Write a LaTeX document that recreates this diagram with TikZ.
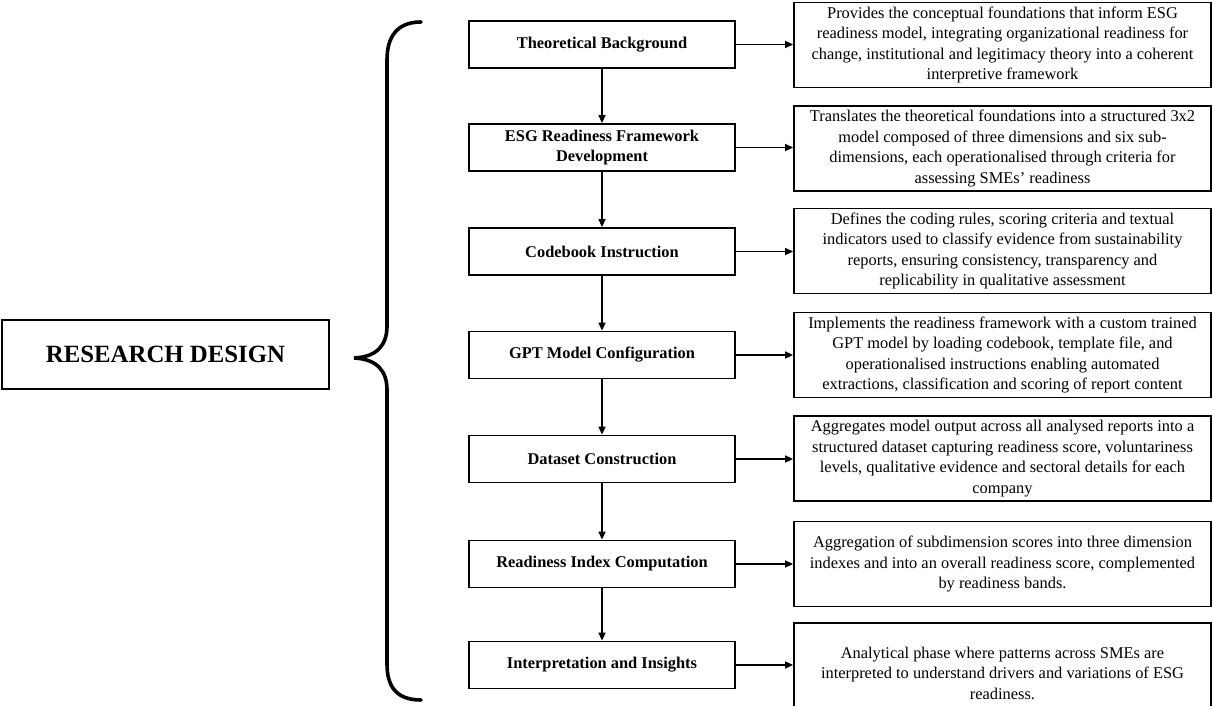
\documentclass[tikz,border=0pt]{standalone}
\usepackage{fontspec}
\setmainfont{Liberation Serif}
\usetikzlibrary{arrows.meta,positioning}
\begin{document}
\begin{tikzpicture}[x=1pt,y=-1pt,
  stepbox/.style={draw,line width=1.8pt,minimum width=266pt,minimum height=47pt,inner sep=0pt,align=center,
    font=\fontsize{16.4}{20.5}\selectfont\bfseries},
  descbox/.style={draw,line width=1.8pt,minimum width=417pt,minimum height=85pt,inner sep=0pt,align=center,
    font=\fontsize{16.4}{20.5}\selectfont},
  flow/.style={line width=1.6pt,-{Triangle[length=8pt,width=7pt]}},
  bracestyle/.style={line width=3.6pt,line cap=round}]
\useasboundingbox (0,0) rectangle (1213,706);
% left box
\node[draw,line width=1.8pt,minimum width=327pt,minimum height=69pt,inner sep=0pt,
  font=\fontsize{24.8}{28}\selectfont\bfseries] (rd) at (165.5,354.5) {RESEARCH DESIGN};
% brace
\draw[bracestyle] (421,22) .. controls (396,22) and (387,38) .. (387,60) -- (387,326)
  .. controls (387,346) and (376,357) .. (354,358)
  .. controls (376,359) and (387,370) .. (387,390) -- (387,664)
  .. controls (387,686) and (396,700) .. (421,700);
% step boxes
\node[stepbox] (m1) at (602,44.5) {Theoretical Background};
\node[stepbox] (m2) at (602,147.5) {ESG Readiness Framework\\Development};
\node[stepbox] (m3) at (602,251.5) {Codebook Instruction};
\node[stepbox] (m4) at (602,355) {GPT Model Configuration};
\node[stepbox] (m5) at (602,459) {Dataset Construction};
\node[stepbox] (m6) at (602,564) {Readiness Index Computation};
\node[stepbox] (m7) at (602,665) {Interpretation and Insights};
% description boxes
\node[descbox] (r1) at (1002.5,45) {Provides the conceptual foundations that inform ESG\\readiness model, integrating organizational readiness for\\change, institutional and legitimacy theory into a coherent\\interpretive framework};
\node[descbox] (r2) at (1002.5,148.5) {Translates the theoretical foundations into a structured 3x2\\model composed of three dimensions and six sub-\\dimensions, each operationalised through criteria for\\assessing SMEs’ readiness};
\node[descbox] (r3) at (1002.5,251) {Defines the coding rules, scoring criteria and textual\\indicators used to classify evidence from sustainability\\reports, ensuring consistency, transparency and\\replicability in qualitative assessment};
\node[descbox] (r4) at (1002.5,355) {Implements the readiness framework with a custom trained\\GPT model by loading codebook, template file, and\\operationalised instructions enabling automated\\extractions, classification and scoring of report content};
\node[descbox] (r5) at (1002.5,458.5) {Aggregates model output across all analysed reports into a\\structured dataset capturing readiness score, voluntariness\\levels, qualitative evidence and sectoral details for each\\company};
\node[descbox] (r6) at (1002.5,564) {Aggregation of subdimension scores into three dimension\\indexes and into an overall readiness score, complemented\\by readiness bands.};
\node[descbox,minimum height=100pt] (r7) at (1002.5,673) {Analytical phase where patterns across SMEs are\\interpreted to understand drivers and variations of ESG\\readiness.};
% vertical arrows
\foreach \a/\b in {m1/m2,m2/m3,m3/m4,m4/m5,m5/m6,m6/m7}
  \draw[flow] (\a.south) -- (\b.north);
% horizontal arrows
\foreach \i in {1,...,7}
  \draw[flow] (m\i.east) -- (m\i.east -| r\i.west);
\end{tikzpicture}
\end{document}
